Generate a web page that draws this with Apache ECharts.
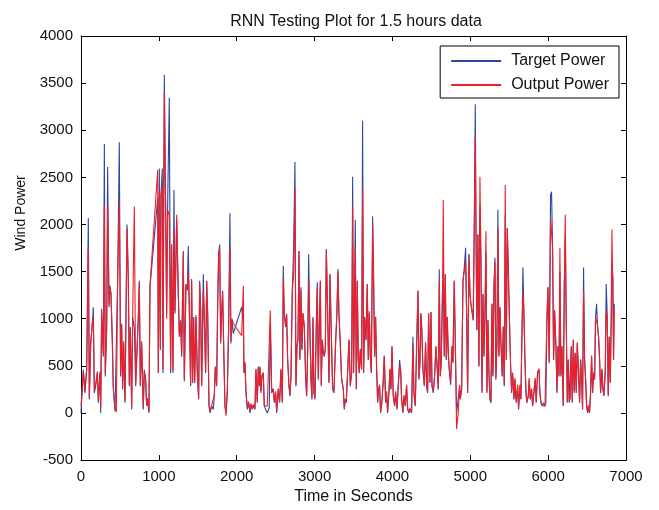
<!DOCTYPE html>
<html>
<head>
<meta charset="utf-8">
<script src="https://cdn.jsdelivr.net/npm/echarts@6/dist/echarts.min.js"></script>
<style>
html,body{margin:0;padding:0;background:#fff;}
#chart{width:659px;height:510px;}
</style>
</head>
<body>
<div id="chart"></div>
<script>
const chartTitle = 'RNN Testing Plot for 1.5 hours data';
const xAxisTitle = 'Time in Seconds';
const yAxisTitle = 'Wind Power';
const seriesNames = ['Target Power', 'Output Power'];
const xTicks = [0, 1000, 2000, 3000, 4000, 5000, 6000, 7000];
const yTicks = [-500, 0, 500, 1000, 1500, 2000, 2500, 3000, 3500, 4000];

const times = [
0,30,51,73,94,107,124,146,158,171,188,210,223,244,253,265,287,300,312,330,342,360,372,385,402,415,437,454,471,492,
509,522,535,548,565,578,591,608,621,633,651,663,685,702,715,736,749,762,779,800,813,830,843,856,873,886,985,993,1006,1019,
1027,1044,1053,1061,1070,1087,1100,1113,1134,1151,1164,1181,1194,1207,1229,1250,1263,1280,1293,1314,1327,1348,1366,1378,1391,1408,1421,1434,1447,1460,
1477,1494,1511,1524,1537,1550,1571,1584,1601,1614,1627,1644,1657,1678,1699,1712,1725,1742,1755,1768,1781,1794,1806,1819,1836,1849,1862,1879,1896,1913,
1926,1939,1956,2063,2085,2093,2106,2119,2136,2153,2170,2183,2196,2213,2234,2247,2264,2277,2290,2299,2311,2324,2341,2354,2371,2393,2418,2431,2449,2470,
2483,2500,2513,2534,2551,2568,2586,2598,2611,2628,2641,2654,2671,2684,2697,2714,2731,2748,2761,2774,2787,2800,2812,2825,2838,2851,2868,2885,2898,2911,
2924,2937,2954,2966,2979,2992,3005,3022,3035,3048,3061,3074,3086,3099,3112,3125,3138,3151,3168,3185,3198,3210,3232,3249,3270,3287,3300,3313,3330,3347,
3369,3382,3394,3407,3424,3442,3459,3476,3489,3501,3510,3523,3536,3549,3561,3574,3587,3604,3617,3630,3643,3660,3677,3690,3703,3716,3729,3746,3758,3771,
3784,3797,3810,3823,3835,3848,3865,3883,3895,3913,3925,3938,3955,3968,3981,3994,4011,4028,4041,4058,4075,4092,4105,4118,4135,4148,4165,4182,4195,4212,
4225,4246,4263,4276,4293,4311,4328,4341,4353,4366,4379,4392,4409,4426,4439,4452,4465,4482,4495,4508,4525,4542,4559,4576,4589,4602,4614,4627,4644,4653,
4666,4679,4692,4704,4717,4730,4747,4764,4777,4794,4811,4824,4846,4863,4871,4889,4906,4923,4940,4953,4966,4983,4996,5008,5026,5038,5051,5064,5077,5085,
5098,5111,5124,5137,5150,5163,5175,5188,5201,5214,5227,5240,5252,5265,5278,5291,5304,5317,5329,5342,5355,5368,5381,5394,5411,5424,5436,5449,5462,5475,
5488,5501,5518,5531,5543,5561,5573,5590,5608,5620,5638,5650,5663,5676,5689,5702,5715,5727,5745,5757,5770,5787,5800,5817,5834,5847,5864,5882,5894,5907,
5924,5941,5959,5971,5984,5997,6014,6031,6044,6057,6070,6083,6100,6113,6126,6139,6151,6164,6177,6194,6207,6220,6233,6246,6258,6271,6284,6297,6310,6323,
6335,6348,6361,6374,6391,6404,6417,6430,6442,6455,6468,6481,6494,6507,6519,6532,6545,6558,6571,6584,6597,6609,6622,6635,6648,6661,6674,6691,6704,6716,
6733,6746,6759,6772,6785,6798,6810,6819,6832,6840,6849
];

const target = [
0,460,213,460,2068,143,738,948,1123,213,283,440,108,423,0,1105,598,2855,388,913,2610,1123,1350,1263,773,248,20,0,1438,2873,
388,948,248,738,108,1000,2000,1403,283,913,38,1018,900,283,563,1018,1403,283,738,38,458,353,73,143,0,1333,2280,423,2593,668,
2313,2593,423,1963,3590,2208,1053,2208,3346,423,1788,423,2366,1053,2050,1263,808,983,598,1718,336,1368,1316,1771,1123,283,1421,318,1018,318,
1018,423,143,1403,1088,283,1473,983,423,1403,1053,73,0,73,38,178,493,283,1123,1683,1788,738,1053,1298,563,73,0,213,913,2120,
738,983,843,1123,950,423,528,213,38,108,0,90,38,73,38,458,108,493,283,493,213,388,423,73,38,0,55,950,213,248,
108,213,0,248,108,458,108,1560,1053,913,1053,563,283,178,388,1298,1753,2663,283,703,773,1718,563,1333,668,1053,913,388,178,633,
1683,983,353,143,1018,213,143,913,1386,353,913,1403,283,773,633,598,668,1736,1053,318,1473,1018,248,213,738,1053,1528,1053,738,353,
248,38,143,108,423,773,283,423,2507,423,1001,2051,248,1403,563,423,668,458,3101,423,1018,773,1368,563,1053,598,423,2086,1473,598,
1018,458,108,248,283,0,108,353,598,108,213,0,213,458,248,703,178,73,213,38,283,563,458,143,0,178,73,283,38,0,
38,0,808,213,73,703,1298,353,528,1053,878,458,283,738,283,213,1053,318,1071,283,213,388,703,458,248,1526,388,528,1333,1400,
598,1473,563,1018,633,458,300,703,528,1403,563,0,0,283,143,248,1403,1543,1753,1053,213,1683,1263,1158,1053,983,1963,3276,1543,878,
1893,493,2200,1613,213,1263,598,1018,1700,213,983,423,143,108,1158,388,1333,1648,353,738,2156,598,1123,738,388,913,283,2100,563,1963,
1543,1053,493,213,423,143,353,108,283,38,283,143,808,1543,1053,563,213,108,178,353,143,248,73,213,353,108,423,458,213,108,
73,108,73,108,983,1333,528,2313,2348,1753,563,1088,703,213,703,388,1500,388,703,73,1333,1900,913,108,563,108,108,703,108,773,
213,633,213,738,388,108,563,353,38,1543,563,353,73,0,73,0,213,598,213,423,353,1018,1158,913,808,563,213,458,248,178,
423,1368,1018,178,808,318,983,1600,1438,563,1158
];

const output = [
73,440,230,470,1753,160,720,960,1018,240,300,420,130,440,60,1080,620,2190,420,900,2208,1150,1330,1270,790,270,40,10,1420,2243,
420,930,270,760,130,1100,1960,1390,300,900,60,1000,2190,300,580,1000,1380,300,760,60,440,370,90,160,20,1350,2577,423,2348,700,
2313,2400,460,1900,3398,2208,1000,2150,2103,450,1788,450,1963,1080,2103,1250,830,960,620,1700,360,1350,1300,1500,1140,300,1400,340,1000,330,
1040,440,160,1380,1100,300,1300,1000,440,1400,1060,90,20,80,60,190,480,300,1140,1700,1750,760,1030,1280,580,90,-30,230,900,1753,
760,1000,950,820,1350,440,540,230,60,120,20,100,50,90,50,470,120,480,290,480,230,400,430,80,73,73,73,1088,230,260,
120,230,20,260,120,470,120,1438,1060,920,1040,580,300,190,400,1300,1473,2383,300,720,790,1718,580,1300,680,1060,920,400,190,650,
1403,1000,370,160,1000,230,160,920,1333,370,920,1403,300,780,640,610,680,1736,1060,330,1473,1020,260,230,750,1060,1500,1060,750,370,
260,50,150,120,430,780,300,430,2190,430,1010,1753,260,1400,570,430,680,470,2383,430,1020,780,1368,570,1080,610,430,1998,1400,610,
1020,470,120,260,300,10,120,370,610,120,230,10,230,470,260,710,190,80,230,50,300,500,470,150,10,190,80,300,50,10,
50,10,738,230,80,710,1298,370,540,1060,800,470,300,750,300,230,1060,330,1071,300,230,400,710,470,260,1403,400,540,1333,2261,
610,1473,570,1020,640,470,320,710,540,1403,570,-170,10,300,150,260,1403,1500,1600,1060,230,1683,1263,1160,1060,990,1963,2943,1543,880,
1893,500,2507,1613,230,1263,610,1020,1928,230,990,430,150,120,1160,400,1333,1600,370,750,1963,610,1123,750,400,920,300,2418,570,1963,
1543,1060,500,230,430,150,370,120,300,50,300,150,810,1298,1060,570,230,120,190,370,150,260,80,230,370,120,430,470,230,120,
80,73,73,73,990,1333,540,2068,2068,1753,570,1090,710,230,710,400,1753,400,710,80,1333,2103,920,120,570,120,150,710,120,780,
230,640,230,750,400,120,570,370,50,1298,570,370,80,10,80,10,230,610,230,430,370,1020,1018,920,810,570,230,470,260,190,
430,1088,1020,190,810,330,990,1946,1200,570,1100
];

const chart = echarts.init(document.getElementById('chart'), null, {renderer: 'canvas'});
const targetData = times.map((t, i) => [t, target[i]]);
const outputData = times.map((t, i) => [t, output[i]]);

const font = 'Liberation Sans, Arial, Helvetica, sans-serif';
const axisCommon = {
  axisLine: {show: true, onZero: false, lineStyle: {color: '#000', width: 1}},
  axisTick: {show: true, inside: true, length: 5, lineStyle: {color: '#000'}},
  splitLine: {show: false}
};
const plain = v => String(v);

chart.setOption({
  animation: false,
  backgroundColor: '#fff',
  title: {
    text: chartTitle,
    left: 351, top: 9, textAlign: 'center',
    textStyle: {fontFamily: font, fontSize: 16, fontWeight: 'normal', color: '#111'}
  },
  legend: {
    data: seriesNames,
    orient: 'vertical',
    right: 40, top: 46,
    backgroundColor: '#fff',
    borderColor: '#000', borderWidth: 1,
    padding: [7, 10, 5, 11],
    itemGap: 8,
    itemWidth: 50, itemHeight: 2,
    icon: 'rect',
    textStyle: {fontFamily: font, fontSize: 16, color: '#111', padding: [0, 0, 0, 5]}
  },
  graphic: [{
    type: 'text',
    x: 21, y: 213,
    rotation: Math.PI / 2,
    style: {
      text: yAxisTitle,
      fontFamily: font, fontSize: 14, fill: '#111',
      textAlign: 'center', textVerticalAlign: 'middle'
    }
  }],
  grid: {left: 81, right: 33, top: 36, bottom: 45, show: false},
  xAxis: [
    Object.assign({
      type: 'value', min: xTicks[0], max: xTicks[xTicks.length - 1], interval: 1000,
      name: xAxisTitle, nameLocation: 'middle', nameGap: 25,
      nameTextStyle: {fontFamily: font, fontSize: 16, color: '#111'},
      axisLabel: {fontFamily: font, fontSize: 15, color: '#111', margin: 9, formatter: plain}
    }, axisCommon),
    Object.assign({
      type: 'value', position: 'top', min: xTicks[0], max: xTicks[xTicks.length - 1], interval: 1000,
      axisLabel: {show: false}
    }, axisCommon)
  ],
  yAxis: [
    Object.assign({
      type: 'value', min: yTicks[0], max: yTicks[yTicks.length - 1], interval: 500,
      axisLabel: {fontFamily: font, fontSize: 15, color: '#111', margin: 8, formatter: plain}
    }, axisCommon),
    Object.assign({
      type: 'value', position: 'right', min: yTicks[0], max: yTicks[yTicks.length - 1], interval: 500,
      axisLabel: {show: false}
    }, axisCommon)
  ],
  series: [
    {
      name: seriesNames[0], type: 'line', data: targetData,
      xAxisIndex: 0, yAxisIndex: 0,
      symbol: 'none', showSymbol: false,
      lineStyle: {color: '#2f47a3', width: 1.1},
      itemStyle: {color: '#2f47a3'},
      z: 2
    },
    {
      name: seriesNames[1], type: 'line', data: outputData,
      xAxisIndex: 0, yAxisIndex: 0,
      symbol: 'none', showSymbol: false,
      lineStyle: {color: '#ee1f26', width: 1.1},
      itemStyle: {color: '#ee1f26'},
      z: 3
    }
  ]
});
</script>
</body>
</html>
